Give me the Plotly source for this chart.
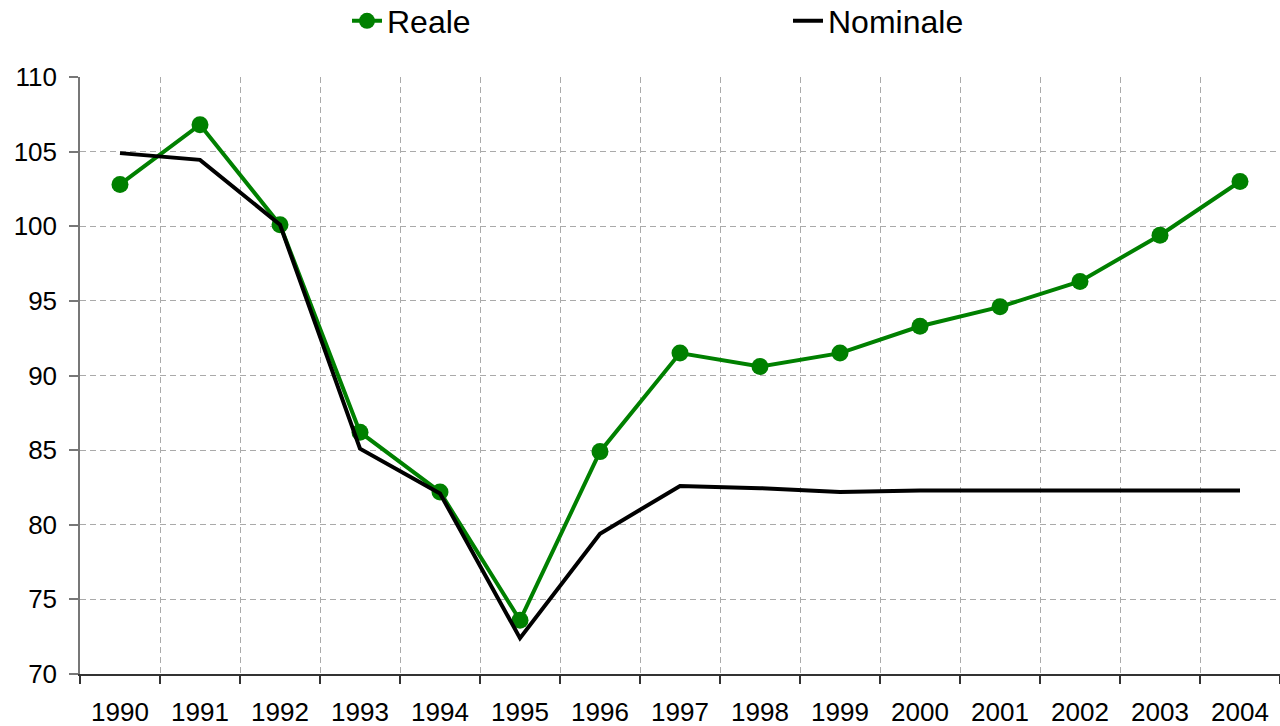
import plotly.graph_objects as go

years = ["1990", "1991", "1992", "1993", "1994", "1995", "1996", "1997",
         "1998", "1999", "2000", "2001", "2002", "2003", "2004"]
reale = [102.8, 106.8, 100.1, 86.2, 82.2, 73.6, 84.9, 91.5,
         90.6, 91.5, 93.3, 94.6, 96.3, 99.4, 103.0]
nominale = [104.9, 104.45, 100.1, 85.1, 82.1, 72.4, 79.4, 82.6,
            82.45, 82.2, 82.3, 82.3, 82.3, 82.3, 82.3]
y_ticks = [70, 75, 80, 85, 90, 95, 100, 105, 110]

FONT = "Liberation Sans, Arial, Helvetica, sans-serif"

fig = go.Figure()
fig.add_trace(go.Scatter(
    x=years, y=reale, name="Reale", mode="lines+markers",
    line=dict(color="#008000", width=4),
    marker=dict(color="#008000", size=17),
))
fig.add_trace(go.Scatter(
    x=years, y=nominale, name="Nominale", mode="lines",
    line=dict(color="#000000", width=4),
))

fig.update_layout(
    width=1280, height=726,
    margin=dict(l=80, r=0, t=77, b=52, autoexpand=False),
    paper_bgcolor="white", plot_bgcolor="white",
    font=dict(family=FONT, color="black", size=26),
    showlegend=True,
    legend=dict(
        orientation="h", xref="container", yref="container",
        x=347 / 1280, y=1 - 21 / 726, xanchor="left", yanchor="middle",
        font=dict(size=32), entrywidth=396, entrywidthmode="pixels",
        bgcolor="rgba(0,0,0,0)",
    ),
)
fig.update_xaxes(
    type="category", range=[-0.5, 14.5], tickson="boundaries",
    showline=True, linecolor="#333333", linewidth=1.5,
    ticks="outside", ticklen=8, tickcolor="#333333", tickwidth=1.5,
    showgrid=True, gridcolor="#aaaaaa", gridwidth=1, griddash="6px,4px",
    ticklabelstandoff=14, tickfont=dict(size=26),
    zeroline=False, automargin=False,
)
fig.update_yaxes(
    range=[70, 110], tickvals=y_ticks,
    showline=True, linecolor="#777777", linewidth=1.5,
    ticks="outside", ticklen=9, tickcolor="#777777", tickwidth=1.5,
    showgrid=True, gridcolor="#aaaaaa", gridwidth=1, griddash="6px,4px",
    ticklabelstandoff=7, tickfont=dict(size=26),
    zeroline=False, automargin=False,
)

fig.write_html("out.html", config={"displayModeBar": False},
               post_script="document.body.style.margin='0';")
